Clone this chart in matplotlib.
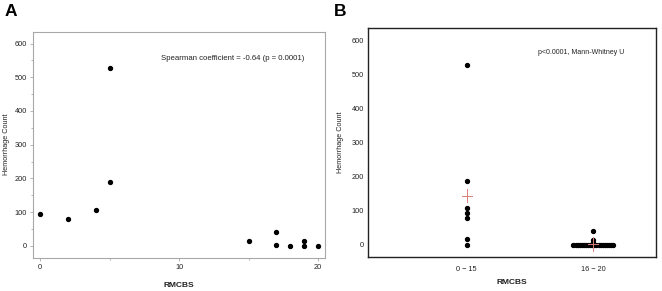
import numpy as np
import matplotlib.pyplot as plt

plt.rcParams['font.family'] = ['Liberation Sans', 'DejaVu Sans']

# panel A: RMCBS score vs hemorrhage count
rmcbs = [0, 2, 4, 5, 5, 15, 17, 17, 18, 19, 19, 20]
hem_count = [95, 79, 107, 528, 189, 16, 42, 3, 0, 14, 0, 0]

# panel B: grouped counts
groups = ['0 \u2212 15', '16 \u2212 20']
low_group = [528, 189, 107, 95, 79, 16, 0]
high_group = [42, 14, 5] + [0] * 20

fig = plt.figure(figsize=(6.62, 2.91), dpi=100)
gray = '#a8a8a8'
txt = '#222222'

# ---- A ----
ax1 = fig.add_axes([0.0503, 0.1144, 0.4407, 0.7766])
ax1.scatter(rmcbs, hem_count, s=8, color='black', zorder=3)
ax1.set_xlim(-0.5, 20.5)
ax1.set_ylim(-35, 635)
ax1.set_xticks([0, 10, 20])
ax1.set_xticks([5, 15], minor=True)
ax1.set_yticks(range(0, 601, 100))
ax1.set_yticks(range(50, 601, 100), minor=True)
for s in ax1.spines.values():
    s.set_color(gray)
    s.set_linewidth(0.8)
ax1.tick_params(which='both', colors=gray, labelcolor=txt, labelsize=5.3, length=2.5, width=0.6, pad=2)
ax1.tick_params(which='minor', length=1.5)
ax1.set_ylabel('Hemorrhage Count', fontsize=5.2, color=txt, va='center')
ax1.yaxis.set_label_coords(-0.092, 0.5)
ax1.set_xlabel('RMCBS', fontsize=6, fontweight='bold', color=txt, va='center')
ax1.xaxis.set_label_coords(0.5, -0.121)
ax1.text(0.93, 0.88, 'Spearman coefficient = -0.64 (p = 0.0001)', transform=ax1.transAxes,
         ha='right', va='center', fontsize=5.6, color=txt)
fig.text(0.007, 0.96, 'A', fontsize=12.5, fontweight='bold', va='center')

# ---- B ----
ax2 = fig.add_axes([0.5563, 0.1179, 0.4347, 0.7848])
for i, vals in enumerate([low_group, high_group]):
    vals = np.array(vals)
    xs = np.full(len(vals), float(i))
    # spread identical values side by side
    for v in np.unique(vals):
        idx = np.where(vals == v)[0]
        if len(idx) > 1 and i == 1:
            off = (np.arange(len(idx)) - (len(idx) - 1) / 2) * 0.0165
            xs[idx] = i + off
    ax2.scatter(xs, vals, s=8, color='black', zorder=3)
    m = vals.mean()
    ax2.plot([i - 0.04, i + 0.04], [m, m], color='#d9807a', lw=0.7, zorder=4)
    ax2.plot([i, i], [m - 20, m + 20], color='#d9807a', lw=0.7, zorder=4)
ax2.set_xlim(-0.777, 1.495)
ax2.set_ylim(-35, 637)
ax2.set_xticks([0, 1])
ax2.set_xticklabels(groups)
ax2.set_yticks(range(0, 601, 100))
for s in ax2.spines.values():
    s.set_color('#222222')
    s.set_linewidth(1.0)
ax2.tick_params(length=0, labelsize=5.3, labelcolor=txt, pad=3)
ax2.tick_params(axis='x', pad=7)
ax2.set_ylabel('Hemorrhage Count', fontsize=5.2, color=txt, va='center')
ax2.yaxis.set_label_coords(-0.098, 0.5)
ax2.set_xlabel('RMCBS', fontsize=6, fontweight='bold', color=txt, va='center')
ax2.xaxis.set_label_coords(0.5, -0.111)
ax2.text(0.89, 0.895, 'p<0.0001, Mann-Whitney U', transform=ax2.transAxes,
         ha='right', va='center', fontsize=5, color=txt)
fig.text(0.505, 0.96, 'B', fontsize=12.5, fontweight='bold', va='center')

fig.savefig('out.png', dpi=100)
